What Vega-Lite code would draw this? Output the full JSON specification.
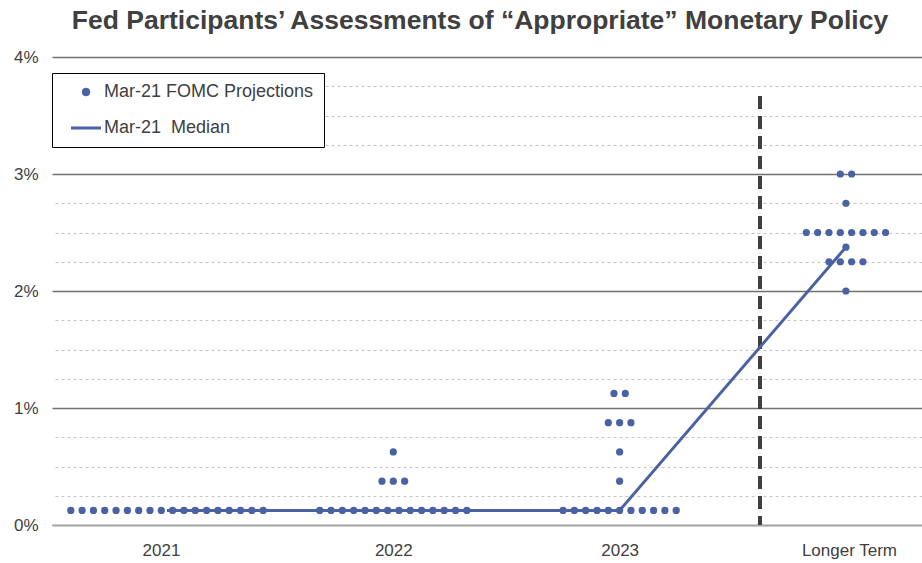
{
  "$schema": "https://vega.github.io/schema/vega-lite/v6.json",
  "width": 870,
  "height": 468,
  "autosize": "none",
  "padding": {"left": 52, "top": 57, "right": 0, "bottom": 38},
  "background": "#ffffff",
  "title": {
    "text": "Fed Participants’ Assessments of “Appropriate” Monetary Policy",
    "font": "Liberation Sans",
    "fontSize": 26.5,
    "fontWeight": "bold",
    "color": "#404040",
    "anchor": "middle",
    "offset": 14,
    "dx": -7
  },
  "config": {
    "view": {"stroke": null},
    "font": "Liberation Sans"
  },
  "data": {
    "values": [
      {"period": "2021", "x": 0.575, "rate": 0.125, "series": "Mar-21 FOMC Projections"},
      {"period": "2021", "x": 0.625, "rate": 0.125, "series": "Mar-21 FOMC Projections"},
      {"period": "2021", "x": 0.675, "rate": 0.125, "series": "Mar-21 FOMC Projections"},
      {"period": "2021", "x": 0.725, "rate": 0.125, "series": "Mar-21 FOMC Projections"},
      {"period": "2021", "x": 0.775, "rate": 0.125, "series": "Mar-21 FOMC Projections"},
      {"period": "2021", "x": 0.825, "rate": 0.125, "series": "Mar-21 FOMC Projections"},
      {"period": "2021", "x": 0.875, "rate": 0.125, "series": "Mar-21 FOMC Projections"},
      {"period": "2021", "x": 0.925, "rate": 0.125, "series": "Mar-21 FOMC Projections"},
      {"period": "2021", "x": 0.975, "rate": 0.125, "series": "Mar-21 FOMC Projections"},
      {"period": "2021", "x": 1.025, "rate": 0.125, "series": "Mar-21 FOMC Projections"},
      {"period": "2021", "x": 1.075, "rate": 0.125, "series": "Mar-21 FOMC Projections"},
      {"period": "2021", "x": 1.125, "rate": 0.125, "series": "Mar-21 FOMC Projections"},
      {"period": "2021", "x": 1.175, "rate": 0.125, "series": "Mar-21 FOMC Projections"},
      {"period": "2021", "x": 1.225, "rate": 0.125, "series": "Mar-21 FOMC Projections"},
      {"period": "2021", "x": 1.275, "rate": 0.125, "series": "Mar-21 FOMC Projections"},
      {"period": "2021", "x": 1.325, "rate": 0.125, "series": "Mar-21 FOMC Projections"},
      {"period": "2021", "x": 1.375, "rate": 0.125, "series": "Mar-21 FOMC Projections"},
      {"period": "2021", "x": 1.425, "rate": 0.125, "series": "Mar-21 FOMC Projections"},
      {"period": "2022", "x": 1.675, "rate": 0.125, "series": "Mar-21 FOMC Projections"},
      {"period": "2022", "x": 1.725, "rate": 0.125, "series": "Mar-21 FOMC Projections"},
      {"period": "2022", "x": 1.775, "rate": 0.125, "series": "Mar-21 FOMC Projections"},
      {"period": "2022", "x": 1.825, "rate": 0.125, "series": "Mar-21 FOMC Projections"},
      {"period": "2022", "x": 1.875, "rate": 0.125, "series": "Mar-21 FOMC Projections"},
      {"period": "2022", "x": 1.925, "rate": 0.125, "series": "Mar-21 FOMC Projections"},
      {"period": "2022", "x": 1.975, "rate": 0.125, "series": "Mar-21 FOMC Projections"},
      {"period": "2022", "x": 2.025, "rate": 0.125, "series": "Mar-21 FOMC Projections"},
      {"period": "2022", "x": 2.075, "rate": 0.125, "series": "Mar-21 FOMC Projections"},
      {"period": "2022", "x": 2.125, "rate": 0.125, "series": "Mar-21 FOMC Projections"},
      {"period": "2022", "x": 2.175, "rate": 0.125, "series": "Mar-21 FOMC Projections"},
      {"period": "2022", "x": 2.225, "rate": 0.125, "series": "Mar-21 FOMC Projections"},
      {"period": "2022", "x": 2.275, "rate": 0.125, "series": "Mar-21 FOMC Projections"},
      {"period": "2022", "x": 2.325, "rate": 0.125, "series": "Mar-21 FOMC Projections"},
      {"period": "2022", "x": 1.95, "rate": 0.375, "series": "Mar-21 FOMC Projections"},
      {"period": "2022", "x": 2.0, "rate": 0.375, "series": "Mar-21 FOMC Projections"},
      {"period": "2022", "x": 2.05, "rate": 0.375, "series": "Mar-21 FOMC Projections"},
      {"period": "2022", "x": 2.0, "rate": 0.625, "series": "Mar-21 FOMC Projections"},
      {"period": "2023", "x": 2.75, "rate": 0.125, "series": "Mar-21 FOMC Projections"},
      {"period": "2023", "x": 2.8, "rate": 0.125, "series": "Mar-21 FOMC Projections"},
      {"period": "2023", "x": 2.85, "rate": 0.125, "series": "Mar-21 FOMC Projections"},
      {"period": "2023", "x": 2.9, "rate": 0.125, "series": "Mar-21 FOMC Projections"},
      {"period": "2023", "x": 2.95, "rate": 0.125, "series": "Mar-21 FOMC Projections"},
      {"period": "2023", "x": 3.0, "rate": 0.125, "series": "Mar-21 FOMC Projections"},
      {"period": "2023", "x": 3.05, "rate": 0.125, "series": "Mar-21 FOMC Projections"},
      {"period": "2023", "x": 3.1, "rate": 0.125, "series": "Mar-21 FOMC Projections"},
      {"period": "2023", "x": 3.15, "rate": 0.125, "series": "Mar-21 FOMC Projections"},
      {"period": "2023", "x": 3.2, "rate": 0.125, "series": "Mar-21 FOMC Projections"},
      {"period": "2023", "x": 3.25, "rate": 0.125, "series": "Mar-21 FOMC Projections"},
      {"period": "2023", "x": 3.0, "rate": 0.375, "series": "Mar-21 FOMC Projections"},
      {"period": "2023", "x": 3.0, "rate": 0.625, "series": "Mar-21 FOMC Projections"},
      {"period": "2023", "x": 2.95, "rate": 0.875, "series": "Mar-21 FOMC Projections"},
      {"period": "2023", "x": 3.0, "rate": 0.875, "series": "Mar-21 FOMC Projections"},
      {"period": "2023", "x": 3.05, "rate": 0.875, "series": "Mar-21 FOMC Projections"},
      {"period": "2023", "x": 2.975, "rate": 1.125, "series": "Mar-21 FOMC Projections"},
      {"period": "2023", "x": 3.025, "rate": 1.125, "series": "Mar-21 FOMC Projections"},
      {"period": "Longer Term", "x": 4.0, "rate": 2.0, "series": "Mar-21 FOMC Projections"},
      {"period": "Longer Term", "x": 3.925, "rate": 2.25, "series": "Mar-21 FOMC Projections"},
      {"period": "Longer Term", "x": 3.975, "rate": 2.25, "series": "Mar-21 FOMC Projections"},
      {"period": "Longer Term", "x": 4.025, "rate": 2.25, "series": "Mar-21 FOMC Projections"},
      {"period": "Longer Term", "x": 4.075, "rate": 2.25, "series": "Mar-21 FOMC Projections"},
      {"period": "Longer Term", "x": 4.0, "rate": 2.375, "series": "Mar-21 FOMC Projections"},
      {"period": "Longer Term", "x": 3.825, "rate": 2.5, "series": "Mar-21 FOMC Projections"},
      {"period": "Longer Term", "x": 3.875, "rate": 2.5, "series": "Mar-21 FOMC Projections"},
      {"period": "Longer Term", "x": 3.925, "rate": 2.5, "series": "Mar-21 FOMC Projections"},
      {"period": "Longer Term", "x": 3.975, "rate": 2.5, "series": "Mar-21 FOMC Projections"},
      {"period": "Longer Term", "x": 4.025, "rate": 2.5, "series": "Mar-21 FOMC Projections"},
      {"period": "Longer Term", "x": 4.075, "rate": 2.5, "series": "Mar-21 FOMC Projections"},
      {"period": "Longer Term", "x": 4.125, "rate": 2.5, "series": "Mar-21 FOMC Projections"},
      {"period": "Longer Term", "x": 4.175, "rate": 2.5, "series": "Mar-21 FOMC Projections"},
      {"period": "Longer Term", "x": 4.0, "rate": 2.75, "series": "Mar-21 FOMC Projections"},
      {"period": "Longer Term", "x": 3.975, "rate": 3.0, "series": "Mar-21 FOMC Projections"},
      {"period": "Longer Term", "x": 4.025, "rate": 3.0, "series": "Mar-21 FOMC Projections"},
      {"period": "2021", "x": 1, "rate": 0.125, "series": "Mar-21  Median"},
      {"period": "2022", "x": 2, "rate": 0.125, "series": "Mar-21  Median"},
      {"period": "2023", "x": 3, "rate": 0.125, "series": "Mar-21  Median"},
      {"period": "Longer Term", "x": 4, "rate": 2.375, "series": "Mar-21  Median"}
    ]
  },
  "layer": [
    {
      "mark": {"type": "rule", "color": "#404040", "strokeWidth": 3, "strokeDash": [12, 8]},
      "encoding": {
        "x": {"datum": 3.62, "type": "quantitative", "axis": null},
        "y": {
          "datum": 3.66,
          "type": "quantitative",
          "axis": {
            "orient": "right",
            "values": [0.25, 0.5, 0.75, 1.25, 1.5, 1.75, 2.25, 2.5, 2.75, 3.25, 3.5, 3.75],
            "grid": true,
            "gridColor": "#c4c4c4",
            "gridDash": [3, 3],
            "gridWidth": 1,
            "labels": false,
            "ticks": false,
            "domain": false,
            "title": null
          }
        },
        "y2": {"datum": 0}
      }
    },
    {
      "transform": [{"filter": "datum.series == 'Mar-21  Median'"}],
      "mark": {"type": "line", "strokeWidth": 3},
      "encoding": {
        "x": {"field": "x", "type": "quantitative", "axis": null},
        "y": {"field": "rate", "type": "quantitative", "axis": null},
        "color": {
          "field": "series",
          "type": "nominal",
          "scale": {"domain": ["Mar-21 FOMC Projections", "Mar-21  Median"], "range": ["#4a62a4", "#4a62a4"]},
          "legend": {
            "orient": "none",
            "legendX": 0,
            "legendY": 16,
            "title": null,
            "strokeColor": "#000000",
            "fillColor": "#ffffff",
            "padding": 10,
            "symbolSize": 64,
            "symbolType": {"expr": "datum.value == 'Mar-21  Median' ? 'M-3.75,0H3.75' : 'circle'"},
            "symbolStrokeWidth": {"expr": "datum.value == 'Mar-21  Median' ? 3 : 0.5"},
            "symbolFillColor": "#4a62a4",
            "symbolOffset": 15,
            "labelOffset": 9,
            "rowPadding": 18,
            "labelFontSize": 18,
            "labelLimit": 400,
            "labelFont": "Liberation Sans",
            "labelColor": "#404040",
            "labelExpr": "replace(datum.label, '  ', '\u00a0 ') + '\u00a0\u00a0\u00a0'"
          }
        }
      }
    },
    {
      "transform": [{"filter": "datum.series == 'Mar-21 FOMC Projections'"}],
      "mark": {"type": "point", "filled": true, "size": 52, "opacity": 1, "color": "#4a62a4"},
      "encoding": {
        "x": {
          "field": "x",
          "type": "quantitative",
          "scale": {"domain": [0.492, 4.336], "nice": false, "zero": false},
          "axis": {
            "values": [1, 2, 3, 4],
            "labelExpr": "datum.value == 1 ? '2021' : datum.value == 2 ? '2022' : datum.value == 3 ? '2023' : 'Longer Term'",
            "title": null,
            "grid": false,
            "ticks": false,
            "tickSize": 0,
            "domain": true,
            "domainColor": "#a6a6a6",
            "domainWidth": 1.5,
            "labelFontSize": 17,
            "labelColor": "#404040",
            "labelPadding": 17,
            "labelFont": "Liberation Sans",
            "labelOffset": {"expr": "datum.value == 1 ? -6 : (datum.value == 4 ? 3 : 0)"}
          }
        },
        "y": {
          "field": "rate",
          "type": "quantitative",
          "scale": {"domain": [0, 4], "nice": false, "zero": true},
          "axis": {
            "orient": "left",
            "values": [0, 1, 2, 3, 4],
            "labelExpr": "datum.value + '%'",
            "title": null,
            "grid": true,
            "gridColor": "#707070",
            "gridWidth": 1.3,
            "ticks": false,
            "tickSize": 0,
            "domain": false,
            "labelFontSize": 17,
            "labelColor": "#404040",
            "labelPadding": 14,
            "labelFont": "Liberation Sans"
          }
        }
      }
    }
  ],
  "resolve": {"axis": {"x": "independent", "y": "independent"}}
}
